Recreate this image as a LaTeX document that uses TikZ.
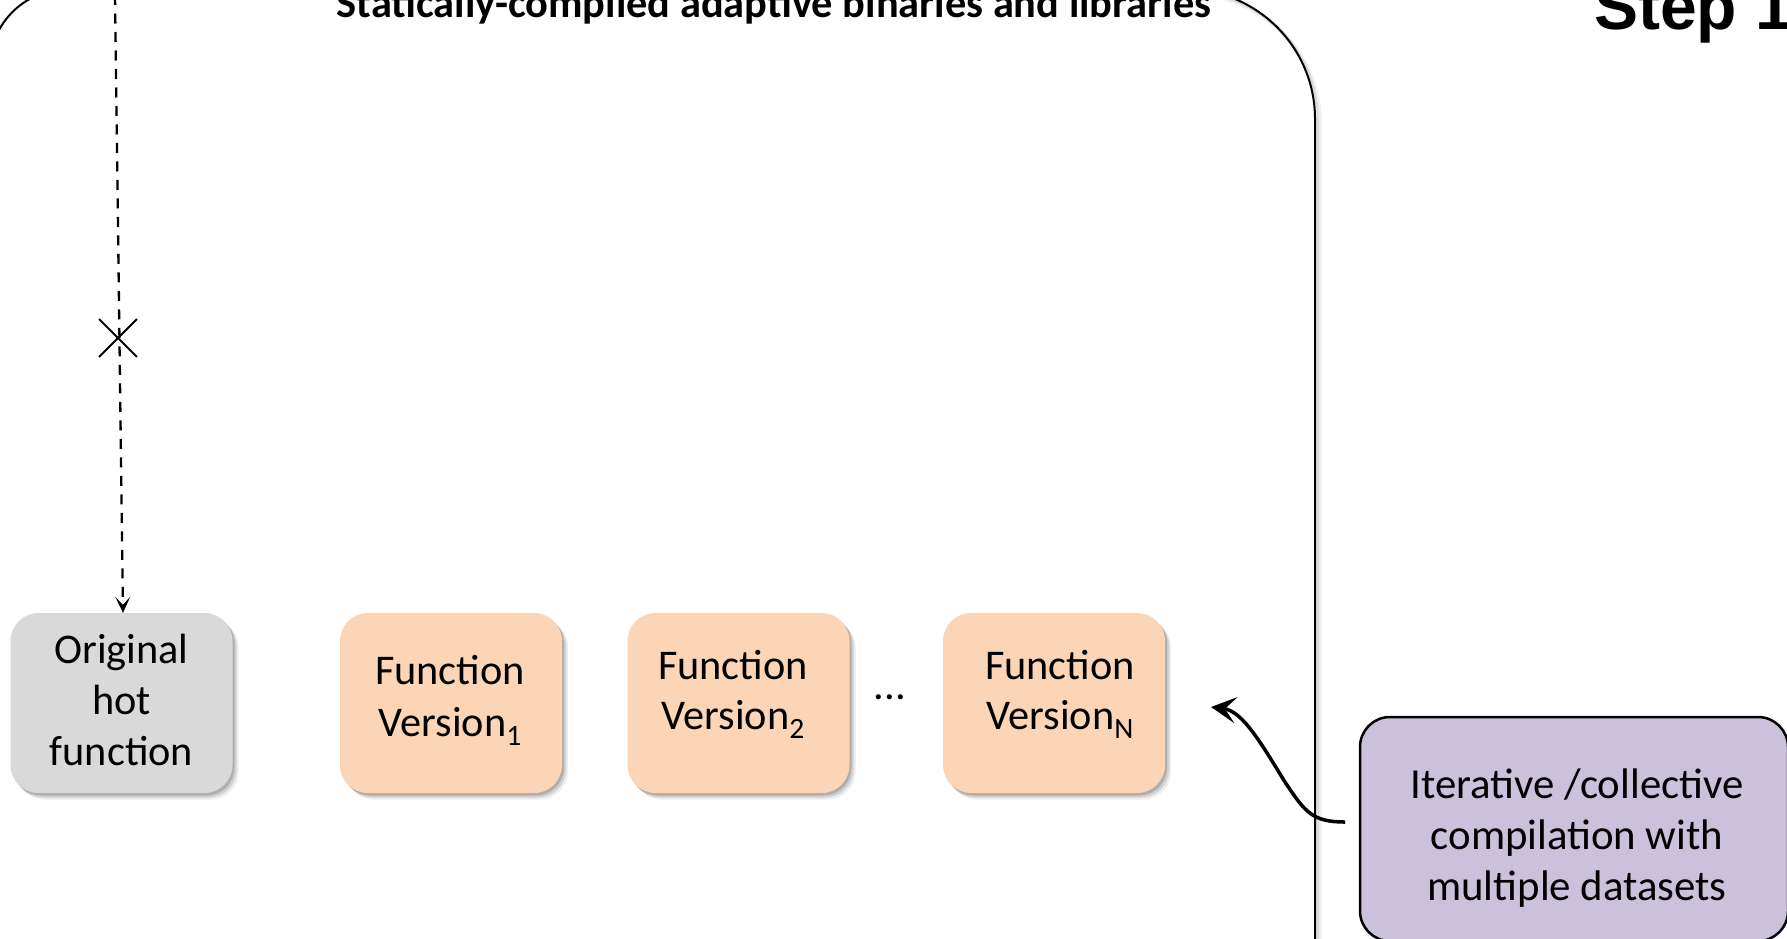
\documentclass[tikz,border=0pt]{standalone}
\usepackage{fontspec}
\setmainfont{Carlito}
\newfontfamily\stepfont{Liberation Sans}
\usetikzlibrary{arrows.meta,shadows,shapes.misc}
\definecolor{greyfill}{HTML}{D9D9D9}
\definecolor{peach}{HTML}{FBD5B5}
\definecolor{lav}{HTML}{CCC1DA}
\newcommand\vsub[1]{\raisebox{-9pt}{\fontsize{29.5}{29.5}\selectfont #1}}
\begin{document}
\begin{tikzpicture}[x=1pt,y=-1pt,
  boxshadow/.style={
    drop shadow={shadow xshift=2pt,shadow yshift=-2.5pt,opacity=0.16,fill=black},
    drop shadow={shadow xshift=4pt,shadow yshift=-4.5pt,opacity=0.12,fill=black},
    drop shadow={shadow xshift=6pt,shadow yshift=-6.5pt,opacity=0.07,fill=black}},
  fbox/.style={rectangle, rounded corners=28pt, minimum width=222pt,
    minimum height=180pt, inner sep=0pt, boxshadow},
  gbox/.style={fbox, fill=greyfill},
  pbox/.style={fbox, fill=peach},
  lbl/.style={inner sep=0pt, align=center, font=\fontsize{42.3}{51}\selectfont},
  lblb/.style={inner sep=0pt, align=center, font=\fontsize{42.3}{50}\selectfont},
  outline/.style={line width=2pt},
  shadowline/.style={line width=3pt, black, opacity=0.10},
  dasharrow/.style={line width=2.3pt, dash pattern=on 10pt off 8.5pt,
    -{Stealth[length=16pt,width=15pt,inset=8pt]}},
  bigarrow/.style={line width=3.5pt, -{Stealth[length=25pt,width=26pt,inset=11pt]}}
]
\useasboundingbox (0,0) rectangle (1787,938);
\clip (0,0) rectangle (1787,938);

% big container outline with shadow on the right
\draw[shadowline, shift={(2.5,2.5)}] (1185,-11) arc[start angle=270,end angle=360,radius=130] -- (1315,960);
\draw[shadowline, line width=4pt, opacity=0.06, shift={(5,5)}] (1185,-11) arc[start angle=270,end angle=360,radius=130] -- (1315,960);
\draw[outline] (-10.5,67.5) arc[start angle=180,end angle=270,radius=78.5] -- (1185,-11)
  arc[start angle=270,end angle=360,radius=130] -- (1315,960);

% titles
\node[anchor=base, inner sep=0pt, font=\bfseries\fontsize{42.4}{50}\selectfont] (title) at (774,17)
  {Statically-compiled adaptive binaries and libraries};
\node[anchor=base west, inner sep=0pt, font=\stepfont\bfseries\fontsize{66}{76}\selectfont] (step) at (1594,29) {Step 1};

% boxes
\node[gbox] (orig) at (121.5,703) {};
\node[pbox] (fv1) at (451,703) {};
\node[pbox] (fv2) at (738.5,703) {};
\node[pbox] (fvn) at (1054,703) {};

\node[lbl] (origt) at (121.5,699.5) {Original\\hot\\function};
\node[lbl, font=\fontsize{42.3}{52}\selectfont] (fv1t) at (450,700) {Function\\Version\vsub{1}};
\node[lblb] (fv2t) at (733,694) {Function\\Version\vsub{2}};
\node[lblb] (fvnt) at (1060,694) {Function\\Version\vsub{N}};
\node[anchor=base, inner sep=0pt, font=\fontsize{42.3}{50}\selectfont] (dots) at (890,699) {...};

% purple box
\node[draw, line width=2.5pt, fill=lav, rounded corners=30pt, minimum width=428pt,
  minimum height=224pt, inner sep=0pt] (purple) at (1574,829) {};
\node[inner sep=0pt, align=center, font=\fontsize{42.8}{51}\selectfont] (purplet) at (1577,838)
  {Iterative /collective\\compilation with\\multiple datasets};

% dashed arrow with cross
\coordinate (dtop) at (115,-5);
\draw[dasharrow] (dtop) -- ([xshift=1.5pt]orig.north);
\node[cross out, draw, line width=1.8pt, minimum size=36pt, inner sep=0pt] (xmark) at (118,338) {};

% curved arrow
\coordinate (cs) at (1345,822);
\coordinate (ce) at (1211,707);
\draw[bigarrow] (cs) .. controls (1312,822) and (1305,812) .. (1285,782)
  .. controls (1262,745) and (1243,711) .. (ce);
\end{tikzpicture}
\end{document}
